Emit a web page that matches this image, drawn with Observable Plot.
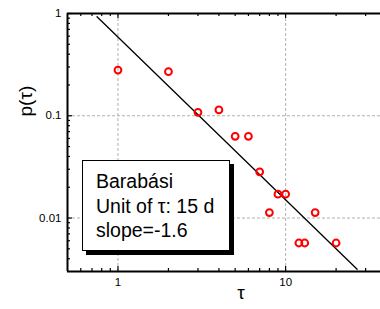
<!DOCTYPE html>
<html><head><meta charset="utf-8">
<script src="https://cdn.jsdelivr.net/npm/d3@7"></script>
<script src="https://cdn.jsdelivr.net/npm/@observablehq/plot@0.6"></script>
<style>
body{margin:0;background:#fff;font-family:"Liberation Sans",Arial,sans-serif;}
#wrap{position:relative;width:380px;height:309px;overflow:hidden;}
#legend{position:absolute;left:82px;top:160px;width:148px;height:91px;box-sizing:border-box;border:1px solid #000;background:#fff;box-shadow:4px 4px 0 #000;padding:8px 0 0 13px;font-size:19.5px;line-height:24.5px;color:#000;white-space:nowrap;}
</style></head>
<body><div id="wrap"></div>
<script>
const tau = [1, 2, 3, 4, 5, 6, 7, 8, 9, 10, 12, 13, 15, 20];
const prob = [0.28, 0.27, 0.108, 0.114, 0.063, 0.063, 0.0283, 0.0113, 0.0171, 0.0171, 0.0057, 0.0057, 0.0113, 0.0057];
const fitX = [0.75, 26.7];
const fitY = [0.93, 0.00315];
const xMajor = [1, 10];
const xMinor = [0.6, 0.7, 0.8, 0.9, 2, 3, 4, 5, 6, 7, 8, 9, 20, 30];
const yMajor = [1, 0.1, 0.01];
const yMinor = [0.004, 0.005, 0.006, 0.007, 0.008, 0.009, 0.02, 0.03, 0.04, 0.05, 0.06, 0.07, 0.08, 0.09, 0.2, 0.3, 0.4, 0.5, 0.6, 0.7, 0.8, 0.9];
const yLabels = ["1", "0.1", "0.01"];
const xLabels = ["1", "10"];
const legendLines = ["Barabási", "Unit of τ: 15 d", "slope=-1.6"];
const xLabel = "τ";
const yLabel = "p(τ)";

const W = 380, H = 309, mL = 67, mT = 13, mB = 38, mR = 0;
const fw = W - mL - mR, fh = H - mT - mB;
const pts = tau.map((t, i) => ({t, p: prob[i]}));
const fit = fitX.map((x, i) => ({x, y: fitY[i]}));
const grid = {stroke: "#b0b0b0", strokeOpacity: 1, strokeDasharray: "3,2", strokeWidth: 1};
const tk = {stroke: "#000", strokeWidth: 1.2};

const chart = Plot.plot({
  width: W, height: H,
  marginLeft: mL, marginTop: mT, marginBottom: mB, marginRight: mR,
  style: {fontFamily: "Liberation Sans, Arial, sans-serif", fontSize: "11.5px", color: "#000", background: "#fff"},
  x: {type: "log", domain: [0.5, 36.8], axis: null},
  y: {type: "log", domain: [0.003, 1], axis: null},
  marks: [
    Plot.gridX(xMajor, grid),
    Plot.gridY(yMajor.slice(1), grid),
    // bottom ticks (inward)
    Plot.tickX(xMajor, {...tk, insetTop: fh - 5}),
    Plot.tickX(xMinor, {...tk, insetTop: fh - 3}),
    // top ticks (inward)
    Plot.tickX(xMajor, {...tk, insetBottom: fh - 5}),
    Plot.tickX(xMinor, {...tk, insetBottom: fh - 3}),
    // left ticks (inward)
    Plot.tickY(yMajor, {...tk, insetRight: fw - 5}),
    Plot.tickY(yMinor, {...tk, insetRight: fw - 3}),
    Plot.axisX({anchor: "bottom", ticks: xMajor, tickSize: 0, tickPadding: 6, tickFormat: d => xLabels[xMajor.indexOf(d)], label: null}),
    Plot.axisY({anchor: "left", ticks: yMajor, tickSize: 0, tickPadding: 6, tickFormat: d => yLabels[yMajor.indexOf(d)], label: null}),
    Plot.ruleY([1], {stroke: "#000", strokeWidth: 2}),
    Plot.ruleY([0.003], {stroke: "#000", strokeWidth: 2}),
    Plot.ruleX([0.5], {stroke: "#000", strokeWidth: 2}),
    Plot.line(fit, {x: "x", y: "y", stroke: "#000", strokeWidth: 1.3}),
    Plot.dot(pts, {x: "t", y: "p", r: 3.4, stroke: "#ff0000", strokeWidth: 2, fill: "none"}),
    Plot.text([xLabel], {frameAnchor: "bottom", dx: 17, dy: 27, fontSize: 19}),
    Plot.text([yLabel], {frameAnchor: "left", dx: -42, dy: -26, rotate: -90, fontSize: 19})
  ]
});
const wrap = document.getElementById("wrap");
wrap.appendChild(chart);
const lg = document.createElement("div");
lg.id = "legend";
lg.innerHTML = legendLines.map(s => `<div>${s}</div>`).join("");
wrap.appendChild(lg);
</script>
</body></html>
